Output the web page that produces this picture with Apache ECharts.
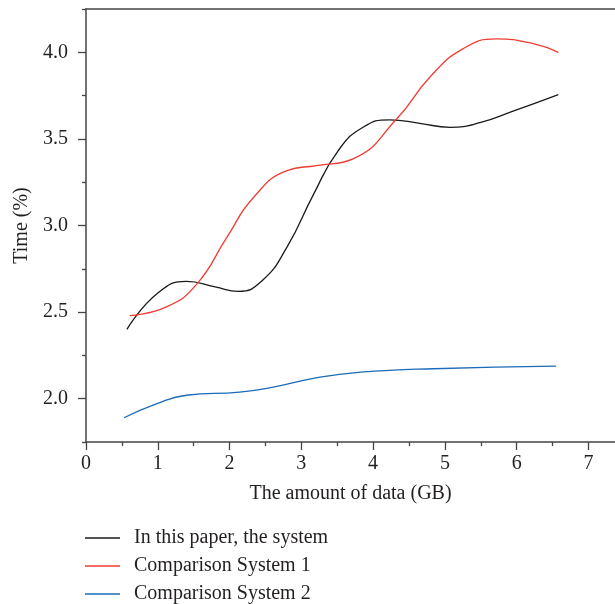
<!DOCTYPE html>
<html lang="en">
<head>
    <meta charset="UTF-8">
    <title>Time vs amount of data</title>
    <script src="https://cdn.jsdelivr.net/npm/echarts@6.0.0/dist/echarts.min.js"></script>
    <style>
        html, body { margin: 0; padding: 0; background: #fff; }
        #charts { width: 615px; height: 604px; }
    </style>
</head>
<body>
<div id="charts"></div>
<script>
    // series names
    var names = ['In this paper, the system', 'Comparison System 1', 'Comparison System 2'];
    var colors = ['#1a1a1a', '#f03c32', '#1a6bb8'];

    // points: [GB, time]
    var oursData = [[0.57, 2.40], [1.0, 2.61], [1.4, 2.677], [1.8, 2.645], [2.12, 2.62], [2.45, 2.68],
        [2.8, 2.875], [3.17, 3.18], [3.51, 3.43], [3.86, 3.567], [4.23, 3.61], [4.65, 3.59],
        [5.07, 3.567], [5.5, 3.595], [5.95, 3.66], [6.58, 3.756]];
    var sys1Data = [[0.61, 2.48], [1.12, 2.53], [1.54, 2.66], [1.96, 2.93], [2.33, 3.16], [2.8, 3.317],
        [3.21, 3.346], [3.72, 3.385], [4.33, 3.616], [4.79, 3.856], [5.25, 4.02], [5.72, 4.077],
        [6.23, 4.05], [6.58, 4.0]];
    var sys2Data = [[0.53, 1.89], [0.98, 1.97], [1.4, 2.02], [2.14, 2.038], [2.61, 2.067], [3.26, 2.125],
        [3.82, 2.153], [4.84, 2.173], [6.55, 2.188]];

    // tick values
    var xMajor = [0, 1, 2, 3, 4, 5, 6, 7];
    var xMinor = [0.5, 1.5, 2.5, 3.5, 4.5, 5.5, 6.5];
    var yMajor = [2.0, 2.5, 3.0, 3.5, 4.0];
    var yMinor = [1.75, 2.25, 2.75, 3.25, 3.75, 4.25];

    var font = 'Liberation Serif';
    var txt = '#231f20';
    var axisCol = '#444';

    function lineSeries(i, data) {
        return {
            name: names[i],
            type: 'line',
            data: data,
            smooth: 0.5,
            symbol: 'none',
            lineStyle: { color: colors[i], width: 1.3 },
            itemStyle: { color: colors[i] }
        };
    }

    var option = {
        animation: false,
        textStyle: { fontFamily: font, color: txt },
        grid: { left: 86, top: 9, right: 0, bottom: 162 },
        legend: {
            orient: 'vertical',
            left: 85,
            top: 528,
            padding: 0,
            itemWidth: 35,
            itemHeight: 12,
            itemGap: 8,
            icon: 'path://M0,0 L35,0 L35,1.3 L0,1.3 Z',
            textStyle: { fontFamily: font, fontSize: 20, color: txt, padding: [0, 0, 0, 9] },
            data: names
        },
        xAxis: [{
            type: 'value',
            min: 0,
            max: 7.37,
            name: 'The amount of data (GB)',
            nameLocation: 'middle',
            nameGap: 42,
            nameTextStyle: { fontFamily: font, fontSize: 20, color: txt },
            axisLine: { show: true, lineStyle: { color: axisCol, width: 1.5 } },
            axisTick: { show: true, customValues: xMajor, length: 8, lineStyle: { color: axisCol, width: 1.3 } },
            axisLabel: { customValues: xMajor, fontFamily: font, fontSize: 20, color: txt, margin: 12 },
            splitLine: { show: false }
        }, {
            type: 'value',
            min: 0,
            max: 7.37,
            position: 'bottom',
            axisLine: { show: false },
            axisTick: { show: true, customValues: xMinor, length: 4, lineStyle: { color: axisCol, width: 1.3 } },
            axisLabel: { show: false },
            splitLine: { show: false }
        }, {
            type: 'value',
            min: 0,
            max: 7.37,
            position: 'top',
            axisLine: { show: true, lineStyle: { color: axisCol, width: 1.5 } },
            axisTick: { show: false },
            axisLabel: { show: false },
            splitLine: { show: false }
        }],
        yAxis: [{
            type: 'value',
            min: 1.75,
            max: 4.25,
            name: 'Time (%)',
            nameLocation: 'middle',
            nameGap: 54,
            nameTextStyle: { fontFamily: font, fontSize: 20, color: txt },
            axisLine: { show: true, lineStyle: { color: axisCol, width: 1.5 } },
            axisTick: { show: true, customValues: yMajor, length: 8, lineStyle: { color: axisCol, width: 1.3 } },
            axisLabel: {
                customValues: yMajor, fontFamily: font, fontSize: 20, color: txt, margin: 18,
                formatter: function (v) { return v.toFixed(1); }
            },
            splitLine: { show: false }
        }, {
            type: 'value',
            min: 1.75,
            max: 4.25,
            position: 'left',
            axisLine: { show: false },
            axisTick: { show: true, customValues: yMinor, length: 4, lineStyle: { color: axisCol, width: 1.3 } },
            axisLabel: { show: false },
            splitLine: { show: false }
        }],
        series: [
            lineSeries(0, oursData),
            lineSeries(1, sys1Data),
            lineSeries(2, sys2Data)
        ]
    };

    var myChart = echarts.init(document.getElementById('charts'));
    myChart.setOption(option);
</script>
</body>
</html>
